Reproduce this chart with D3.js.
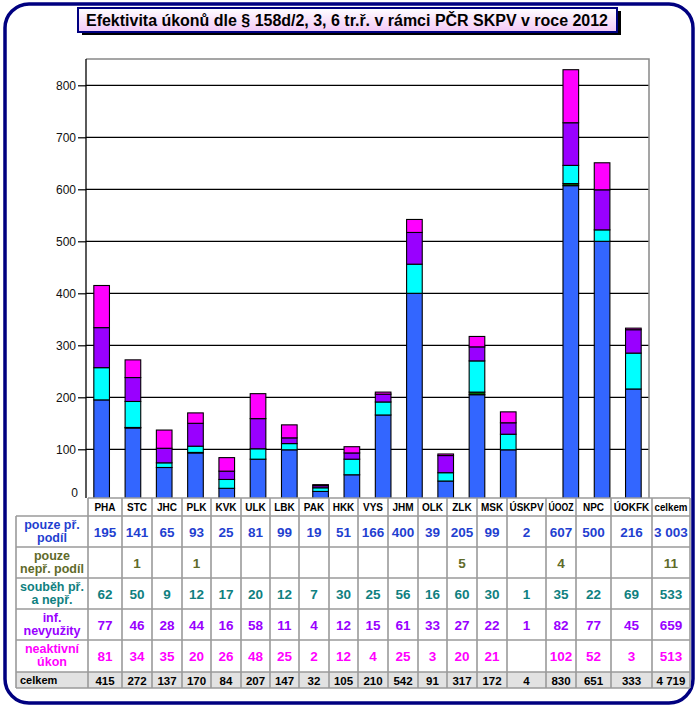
<!DOCTYPE html>
<html><head><meta charset="utf-8">
<script src="https://cdn.jsdelivr.net/npm/d3@7"></script>
<style>body{margin:0;background:#fff;} svg{display:block;font-family:"Liberation Sans",Arial,sans-serif;}</style>
</head><body>
<script>
// ---- data ----
const categories = ["PHA","STC","JHC","PLK","KVK","ULK","LBK","PAK","HKK","VYS","JHM","OLK","ZLK","MSK","ÚSKPV","ÚOOZ","NPC","ÚOKFK"];
const pouzePr   = [195,141,65,93,25,81,99,19,51,166,400,39,205,99,2,607,500,216];
const pouzeNepr = [null,1,null,1,null,null,null,null,null,null,null,null,5,null,null,4,null,null];
const soubeh    = [62,50,9,12,17,20,12,7,30,25,56,16,60,30,1,35,22,69];
const infNevyuz = [77,46,28,44,16,58,11,4,12,15,61,33,27,22,1,82,77,45];
const neaktivni = [81,34,35,20,26,48,25,2,12,4,25,3,20,21,null,102,52,3];
const celkemRow = [415,272,137,170,84,207,147,32,105,210,542,91,317,172,4,830,651,333];
const celkemCol = [3003,11,533,659,513,4719];
const seriesNames = [["pouze př.","podíl"],["pouze","nepř. podíl"],["souběh př.","a nepř."],["inf.","nevyužity"],["neaktivní","úkon"]];
const yTicks = [0,100,200,300,400,500,600,700,800];
const title = "Efektivita  úkonů dle § 158d/2, 3, 6 tr.ř.  v rámci PČR SKPV v roce 2012";

// ---- styles / layout ----
const barColors  = ["#3366ff","#006600","#00ffff","#9900ff","#ff00ff"];
const textColors = ["#1f3fd0","#5f6b2a","#0f8080","#9900ff","#ff00ff"];
const W = 699, H = 710;
const plot = {left:86, right:649, top:59, zero:501.3, bottom:498};
const colEdges = [88,122,152,182,211,241,270,299,329,358,388,418,447,477,507,546,576,611,652,690];
const rowEdges = [498,516,547,578,609,640,672,688];
const labelLeft = 16;

const svg = d3.select("body").append("svg").attr("width",W).attr("height",H);
const defs = svg.append("defs");
const g1 = defs.append("linearGradient").attr("id","tg").attr("x1",0).attr("y1",0).attr("x2",0).attr("y2",1);
g1.append("stop").attr("offset","0%").attr("stop-color","#ffffff");
g1.append("stop").attr("offset","100%").attr("stop-color","#f3c8f6");

// outer frame
svg.append("rect").attr("x",5).attr("y",4).attr("width",688).attr("height",699).attr("rx",24)
  .attr("fill","#fff").attr("stroke","#000080").attr("stroke-width",3.5);

// title
svg.append("rect").attr("x",82).attr("y",11).attr("width",539).attr("height",24).attr("fill","#000");
svg.append("rect").attr("x",78).attr("y",8).attr("width",539).attr("height",24)
  .attr("fill","url(#tg)").attr("stroke","#000080").attr("stroke-width",2);
svg.append("text").attr("x",347).attr("y",26).attr("text-anchor","middle")
  .attr("font-size",16).attr("font-weight","bold").attr("fill","#000")
  .attr("textLength",522).attr("lengthAdjust","spacingAndGlyphs").text(title);

// scales
const x = d3.scaleBand().domain(categories).range([plot.left, plot.right]).paddingInner(0.5).paddingOuter(0.25);
const y = d3.scaleLinear().domain([0,850]).range([plot.zero, plot.zero - 850*0.52]);

// gridlines
svg.append("g").selectAll("line").data(yTicks.filter(d=>d>0)).join("line")
  .attr("x1",plot.left).attr("x2",plot.right).attr("y1",d=>y(d)).attr("y2",d=>y(d))
  .attr("stroke","#000").attr("stroke-width",1.2);

// plot border (top, right)
svg.append("path").attr("d",`M${plot.left},${plot.top}H${plot.right}V${plot.bottom}`)
  .attr("fill","none").attr("stroke","#888").attr("stroke-width",1.5);

// stacked bars
const rows = categories.map((c,i)=>({cat:c, s0:pouzePr[i]||0, s1:pouzeNepr[i]||0, s2:soubeh[i]||0, s3:infNevyuz[i]||0, s4:neaktivni[i]||0}));
const stack = d3.stack().keys(["s0","s1","s2","s3","s4"])(rows);
const barG = svg.append("g");
stack.forEach((layer,k)=>{
  barG.append("g").selectAll("rect").data(layer.filter(d=>d[1]>d[0])).join("rect")
    .attr("x",d=>x(d.data.cat)).attr("width",x.bandwidth())
    .attr("y",d=>y(d[1])).attr("height",d=>y(d[0])-y(d[1]))
    .attr("fill",barColors[k]).attr("stroke","#000").attr("stroke-width",1.1);
});

// y axis
const yAxis = svg.append("g").attr("transform",`translate(${plot.left},0)`)
  .call(d3.axisLeft(y).tickValues(yTicks).tickSize(8).tickSizeOuter(0).tickPadding(2));
yAxis.select(".domain").attr("stroke","#000").attr("stroke-width",1.3)
  .attr("d",`M0,${plot.top}V${plot.bottom}`);
yAxis.selectAll(".tick line").attr("stroke","#000").attr("stroke-width",1.2);
yAxis.selectAll(".tick text").attr("font-size",12).attr("fill","#111").attr("font-family","Liberation Sans, Arial, sans-serif");
yAxis.selectAll(".tick").filter(d=>d===0).select("line").remove();
yAxis.selectAll(".tick").filter(d=>d===0).select("text").attr("dy","-0.4em").attr("x",-8);

// ---- data table ----
const tbl = svg.append("g");
const nCols = colEdges.length-1;
tbl.append("rect").attr("x",colEdges[0]).attr("y",rowEdges[0]).attr("width",colEdges[nCols]-colEdges[0]).attr("height",rowEdges[6]-rowEdges[0]).attr("fill","#fff");
tbl.append("rect").attr("x",labelLeft).attr("y",rowEdges[6]).attr("width",colEdges[nCols]-labelLeft).attr("height",rowEdges[7]-rowEdges[6]).attr("fill","#e2e2e2");
const gridCol = "#9a9a9a";
rowEdges.forEach((ry,i)=>{
  tbl.append("line").attr("x1", i===0 ? colEdges[0] : labelLeft).attr("x2",colEdges[nCols])
    .attr("y1",ry).attr("y2",ry).attr("stroke",gridCol).attr("stroke-width",1.6);
});
colEdges.forEach(cx=>{
  tbl.append("line").attr("x1",cx).attr("x2",cx).attr("y1",rowEdges[0]).attr("y2",rowEdges[7])
    .attr("stroke",gridCol).attr("stroke-width",1.6);
});
tbl.append("line").attr("x1",labelLeft).attr("x2",labelLeft).attr("y1",rowEdges[1]).attr("y2",rowEdges[7])
  .attr("stroke",gridCol).attr("stroke-width",1.6);

const colMid = i => (colEdges[i]+colEdges[i+1])/2;
const rowMid = r => (rowEdges[r]+rowEdges[r+1])/2;
const headers = categories.concat(["celkem"]);
tbl.selectAll("text.hdr").data(headers).join("text").attr("class","hdr")
  .attr("x",(d,i)=>colMid(i)).attr("y",rowMid(0)+4).attr("text-anchor","middle")
  .attr("font-size",10).attr("font-weight","bold").attr("fill","#000").text(d=>d)
  .each(function(d,i){
    const avail = colEdges[i+1]-colEdges[i]-5;
    if (this.getComputedTextLength() > avail) d3.select(this).attr("textLength",avail).attr("lengthAdjust","spacingAndGlyphs");
  });

const fmt = v => v==null ? "" : d3.format(",")(v).replace(/,/g," ");
const seriesData = [pouzePr,pouzeNepr,soubeh,infNevyuz,neaktivni];
const labMid = (labelLeft+colEdges[0])/2;
seriesData.forEach((arr,r)=>{
  const vals = arr.concat([celkemCol[r]]);
  tbl.append("g").selectAll("text").data(vals).join("text")
    .attr("x",(d,i)=>colMid(i)).attr("y",rowMid(r+1)+5).attr("text-anchor","middle")
    .attr("font-size",13.5).attr("font-weight","bold").attr("fill",textColors[r]).text(fmt);
  seriesNames[r].forEach((line,li)=>{
    const t = tbl.append("text").attr("x",labMid).attr("y",rowEdges[r+1]+13+li*13)
      .attr("text-anchor","middle").attr("font-size",12.5).attr("font-weight","bold")
      .attr("fill",textColors[r]).text(line);
    const avail = colEdges[0]-labelLeft-4;
    if (t.node().getComputedTextLength() > avail) t.attr("textLength",avail).attr("lengthAdjust","spacingAndGlyphs");
  });
});
tbl.append("g").selectAll("text").data(celkemRow.concat([celkemCol[5]])).join("text")
  .attr("x",(d,i)=>colMid(i)).attr("y",rowMid(6)+4.5).attr("text-anchor","middle")
  .attr("font-size",11.5).attr("font-weight","bold").attr("fill","#000").text(fmt);
tbl.append("text").attr("x",labelLeft+4).attr("y",rowMid(6)+4).attr("font-size",11)
  .attr("font-weight","bold").attr("fill","#000").text("celkem");
</script>
</body></html>
